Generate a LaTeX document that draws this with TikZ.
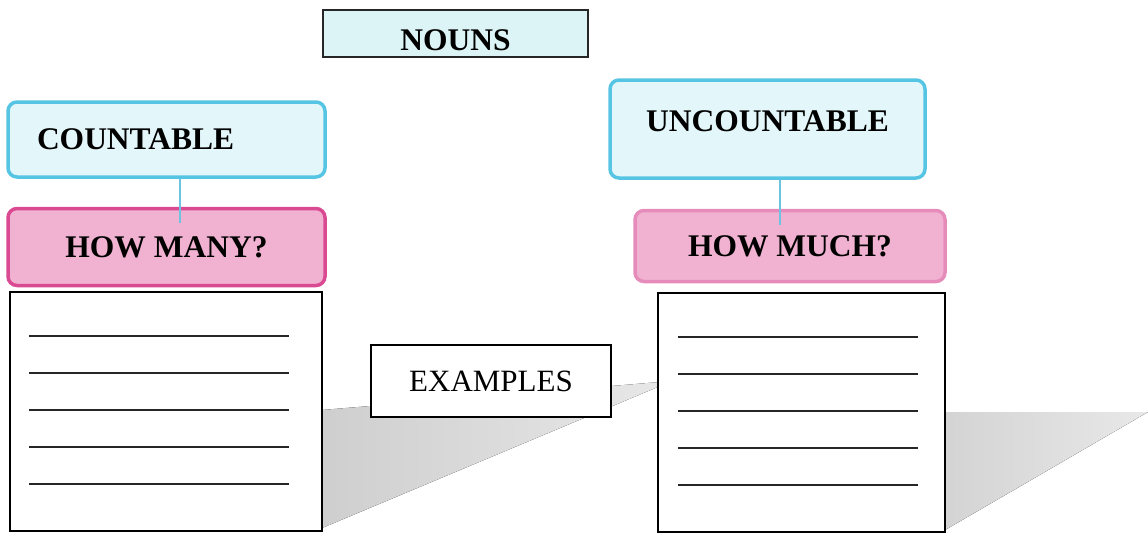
\documentclass[tikz,border=0pt]{standalone}
\usepackage{fontspec}
\setmainfont{Liberation Serif}
\usetikzlibrary{positioning, calc}

\definecolor{cyanline}{HTML}{56C5E3}
\definecolor{cyanfill}{HTML}{E3F7FA}
\definecolor{nounfill}{HTML}{DDF4F6}
\definecolor{pinkline}{HTML}{D94A92}
\definecolor{pinksoft}{HTML}{E68CBB}
\definecolor{pinkfill}{HTML}{F1B2D2}
\definecolor{linkline}{HTML}{6EC3E0}

\begin{document}
\begin{tikzpicture}[
    x=1pt, y=-1pt,
    bigtext/.style={font=\bfseries\fontsize{31.5}{37}\selectfont},
    headbox/.style={rectangle, draw=black!85, line width=2pt, fill=nounfill, minimum width=265pt, minimum height=47pt, bigtext},
    typebox/.style={rectangle, rounded corners=9pt, draw=cyanline, line width=3.5pt, fill=cyanfill, bigtext},
    askbox/.style={rectangle, rounded corners=9pt, draw=pinkline, line width=3.5pt, fill=pinkfill, bigtext},
    listbox/.style={rectangle, draw=black, line width=1.8pt, fill=white, minimum height=239pt},
    labelbox/.style={rectangle, draw=black, line width=1.8pt, fill=white, minimum width=240pt, minimum height=72pt, font=\fontsize{31}{37}\selectfont},
    link/.style={draw=linkline, line width=1.5pt},
    writeline/.style={draw=black!85, line width=1.5pt}
]
\useasboundingbox (0,0) rectangle (1148,533);

% Shadows
\fill[left color=black!19, right color=black!9] (322,410) -- (672,381) -- (322,528) -- cycle;
\fill[left color=black!17, right color=black!9] (945,412) -- (1148,412) -- (945,530) -- cycle;

% Nodes
\node (nouns) [headbox, text height=34pt, inner ysep=0pt] at (455.5,33.5) {NOUNS};

\node (countable) [typebox, minimum width=317pt, minimum height=75pt, text width=259pt, align=left, inner xsep=29pt] at (166.5,139.5) {COUNTABLE};
\node (howmany) [askbox, minimum width=317pt, minimum height=77pt, below=28pt of countable] {HOW MANY?};

\node (uncountable) [typebox, minimum width=315pt, minimum height=98pt, text depth=16pt] at (767.5,129) {UNCOUNTABLE};
\node (howmuch) [askbox, draw=pinksoft, minimum width=310pt, minimum height=71pt, below=29pt of uncountable, xshift=22.5pt] {HOW MUCH?};

\node (listL) [listbox, minimum width=312pt] at (166,411.5) {};
\node (listR) [listbox, minimum width=287pt] at (801.5,412.5) {};

\node (examples) [labelbox] at (491,381) {EXAMPLES};

% Links
\coordinate (endL) at (180,223);
\coordinate (endR) at (780,225);
\draw [link] (endL |- countable.south) -- (endL);
\draw [link] (endR |- uncountable.south) -- (endR);

% Writing lines
\foreach \k in {1,...,5} {
  \draw [writeline] ($(listL.north west)+(20,8+37*\k)$) -- ($(listL.north east)+(-34,8+37*\k)$);
  \draw [writeline] ($(listR.north west)+(21,8+37*\k)$) -- ($(listR.north east)+(-28,8+37*\k)$);
}

\end{tikzpicture}
\end{document}
